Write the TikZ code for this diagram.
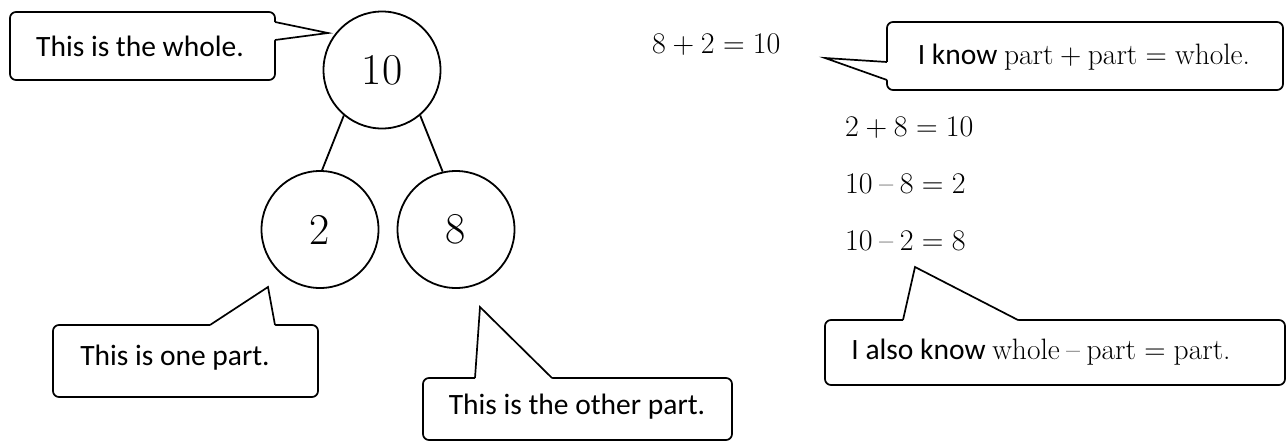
\documentclass[tikz,border=0pt]{standalone}
\usepackage{fontspec}
\newfontfamily\calib{Carlito}
\usetikzlibrary{calc}
\newcommand{\bop}[1]{\hspace{0.222em}#1\hspace{0.222em}}
\newcommand{\brel}[1]{\hspace{0.278em}#1\hspace{0.278em}}
\tikzset{
  x=1pt, y=-1pt,
  bubble/.style={draw, line width=1.7pt, rounded corners=6pt, fill=white},
  tipline/.style={draw, line width=1.7pt, line join=miter},
  num/.style={circle, draw, line width=1.8pt, inner sep=0pt, minimum size=117pt, font=\fontsize{44}{48}\selectfont\rmfamily},
  lbl/.style={inner sep=0pt, font=\fontsize{29.5}{32}\selectfont\calib},
  eq/.style={inner sep=0pt, anchor=base west, font=\fontsize{30}{34}\selectfont\rmfamily},
  link/.style={line width=1.8pt}
}
\newcommand{\callout}[6]{%
  \draw[bubble] #1 rectangle #2;
  \fill[white] #3 -- #5 -- #4 -- ($#4+#6$) -- ($#3+#6$) -- cycle;
  \draw[tipline] #3 -- #5 -- #4;
}
\begin{document}
\begin{tikzpicture}
\useasboundingbox (0,0) rectangle (1288,445);

% circles
\node[num] (n10) at (382,70) {10};
\node[num] (n2) at (320,229.5) {2};
\node[num] (n8) at (456,229.5) {8};
\draw[link] (n10.230) -- (n2.88);
\draw[link] (n10.310) -- (n8.103);

% callout: whole
\coordinate (t1) at (328,33);
\callout{(10,12)}{(275,80)}{(275,22)}{(275,40)}{(t1)}{(-3,0)}
\node[lbl] (c1) at (140,46) {This is the whole.};

% callout: one part
\coordinate (t2) at (268,287);
\callout{(53,325)}{(318,397)}{(210,325)}{(275,325)}{(t2)}{(0,3)}
\node[lbl] (c2) at (175,358) {This is one part.};

% callout: other part
\coordinate (t3) at (480,307);
\callout{(423,378)}{(732,440)}{(475,378)}{(552,378)}{(t3)}{(0,3)}
\node[lbl] (c3) at (577,407) {This is the other part.};

% equations
\node[eq] (e1) at (652,53) {8\bop{+}2\brel{=}10};
\node[eq] (e2) at (845,136.5) {2\bop{+}8\brel{=}10};
\node[eq] (e3) at (845,193) {10\bop{--}8\brel{=}2};
\node[eq] (e4) at (845,250) {10\bop{--}2\brel{=}8};

% callout: know
\coordinate (t4) at (825,58);
\callout{(887,22)}{(1283,90)}{(887,62)}{(887,80)}{(t4)}{(3,0)}
\node[lbl] (c4) at (1084,57) {I know {\rmfamily part\bop{+}part\brel{=}whole.}};

% callout: also know
\coordinate (t5) at (915,267);
\callout{(825,320)}{(1285,385)}{(903,320)}{(1018,320)}{(t5)}{(0,3)}
\node[lbl] (c5) at (1041,352) {I also know {\rmfamily whole\bop{--}part\brel{=}part.}};
\end{tikzpicture}
\end{document}
